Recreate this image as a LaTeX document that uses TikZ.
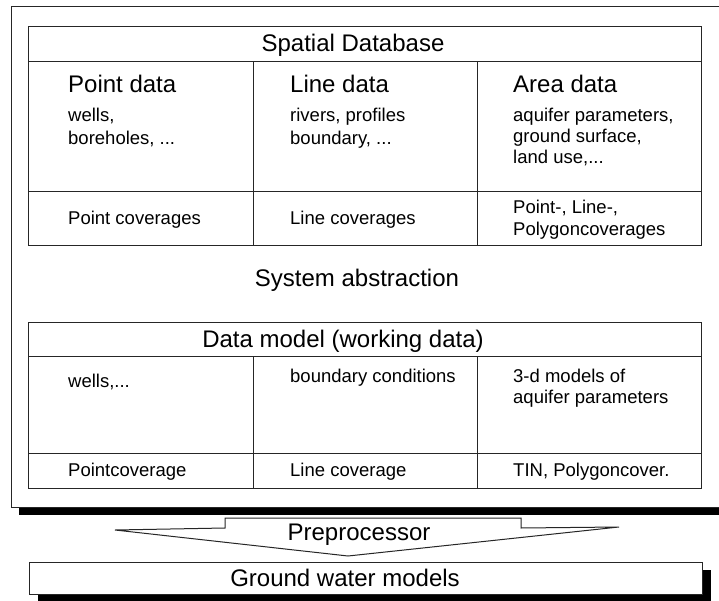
\documentclass[tikz,border=0pt]{standalone}
\usepackage{fontspec}
\setmainfont{Liberation Sans}
\begin{document}
\begin{tikzpicture}[x=1pt,y=-1pt,
  big/.style={font=\fontsize{24}{28}\selectfont, inner sep=0pt},
  small/.style={font=\fontsize{18.5}{21}\selectfont, inner sep=0pt, anchor=base west},
  frame/.style={draw=black!85, line width=1pt},
  shadowfill/.style={fill=black}]
\useasboundingbox (0,0) rectangle (719,601);
\clip (0,0) rectangle (719,601);
% outer frame with shadow
\fill[shadowfill] (19,507) rectangle (740,515);
\draw[frame, fill=white] (11,7) rectangle (730,507);
% ---------- Spatial database table
\draw[frame] (28,27) rectangle (701,246);
\draw[frame] (28,62) -- (701,62);
\draw[frame] (28,192) -- (701,192);
\draw[frame] (253,62) -- (253,246);
\draw[frame] (477,62) -- (477,246);
\node[big, anchor=base] (sdb) at (353,52) {Spatial Database};
\node[big, anchor=base west] (pd) at (68,93) {Point data};
\node[big, anchor=base west] (ld) at (290,93) {Line data};
\node[big, anchor=base west] (ad) at (513,93) {Area data};
\node[small] (pd1) at (68,122) {wells,};
\node[small] (pd2) at (68,145) {boreholes, ...};
\node[small] (ld1) at (290,122) {rivers, profiles};
\node[small] (ld2) at (290,145) {boundary, ...};
\node[small] (ad1) at (513,122) {aquifer parameters,};
\node[small] (ad2) at (513,143) {ground surface,};
\node[small] (ad3) at (513,164) {land use,...};
\node[small] (pc) at (68,225) {Point coverages};
\node[small] (lc) at (290,225) {Line coverages};
\node[small] (ac1) at (513,214) {Point-, Line-,};
\node[small] (ac2) at (513,236) {Polygoncoverages};
% ---------- System abstraction
\node[big, anchor=base] (sa) at (357,286) {System abstraction};
% ---------- Data model table
\draw[frame] (28,322) rectangle (701,488);
\draw[frame] (28,356) -- (701,356);
\draw[frame] (28,453) -- (701,453);
\draw[frame] (253,356) -- (253,488);
\draw[frame] (477,356) -- (477,488);
\node[big, anchor=base] (dm) at (343,347) {Data model (working data)};
\node[small] (dw) at (68,387) {wells,...};
\node[small] (db) at (290,382) {boundary conditions};
\node[small] (d31) at (513,382) {3-d models of};
\node[small] (d32) at (513,403) {aquifer parameters};
\node[small] (dpc) at (68,476) {Pointcoverage};
\node[small] (dlc) at (290,476) {Line coverage};
\node[small] (dtin) at (513,476) {TIN, Polygoncover.};
% ---------- Preprocessor arrow
\coordinate (st1) at (225,518);
\coordinate (st2) at (521,518);
\coordinate (sb1) at (225,528);
\coordinate (sb2) at (521,528);
\coordinate (tipL) at (115,530);
\coordinate (tipR) at (619,527);
\coordinate (apex) at (348,556);
\draw[frame, fill=white, line join=miter] (st1) -- (st2) -- (sb2) -- (tipR) -- (apex) -- (tipL) -- (sb1) -- cycle;
\node[big, anchor=base] (pre) at (359,540) {Preprocessor};
% ---------- Ground water models box
\fill[shadowfill] (38,570) rectangle (711,603);
\draw[frame, fill=white] (29,562) rectangle (702,594);
\node[big, anchor=base] (gw) at (345,586) {Ground water models};
\end{tikzpicture}
\end{document}
